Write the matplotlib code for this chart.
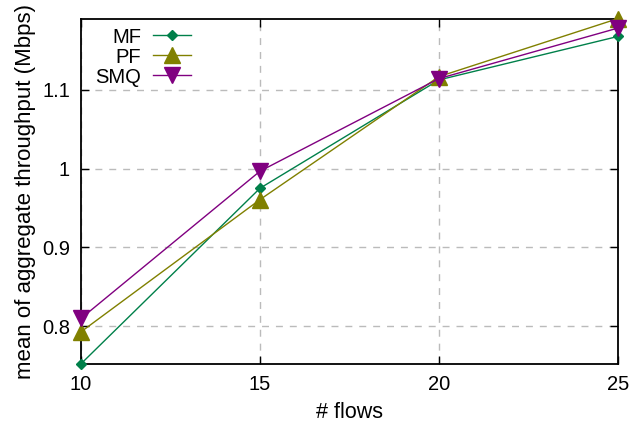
import matplotlib
matplotlib.use("Agg")
import matplotlib.pyplot as plt

plt.rcParams['font.family'] = ['Liberation Sans', 'DejaVu Sans']

# data
flows = [10, 15, 20, 25]
mf = [0.7525, 0.975, 1.1123, 1.1674]
pf = [0.793, 0.9606, 1.1165, 1.190]
smq = [0.810, 0.9966, 1.114, 1.178]

fig = plt.figure(figsize=(6.41, 4.23), dpi=100)
ax = fig.add_axes([0.1264, 0.140, 0.8376, 0.816])

ax.plot(flows, mf, color='#00804a', marker='D', markersize=5.5, lw=1, label='MF', clip_on=False, zorder=6)
ax.plot(flows, pf, color='#808000', marker='^', markersize=12, lw=1, label='PF', clip_on=False, zorder=6)
ax.plot(flows, smq, color='#800080', marker='v', markersize=12, lw=1, label='SMQ', clip_on=False, zorder=6)

ax.set_xlim(10, 25)
ax.set_ylim(0.7525, 1.190)
ax.set_xticks([10, 15, 20, 25])
ax.set_yticks([0.8, 0.9, 1.0, 1.1])
ax.set_yticklabels(['0.8', '0.9', '1', '1.1'])
ax.tick_params(direction='in', length=6, width=1, labelsize=14.5, top=True, right=True, pad=8)
ax.grid(True, color='#bbbbbb', linestyle=(0, (5, 5)), linewidth=1)
for s in ax.spines.values():
    s.set_linewidth(1.3)
    s.set_zorder(5)

ax.set_xlabel('# flows', fontsize=15.5, labelpad=6)
ax.set_ylabel('mean of aggregate throughput (Mbps)', fontsize=16, labelpad=4)

leg = ax.legend(loc='upper left', bbox_to_anchor=(0.0, 1.015), frameon=False, fontsize=14.5,
                markerfirst=False, handlelength=1.9, handletextpad=0.6, labelspacing=0.05,
                borderaxespad=0.3)
leg._legend_box.align = 'right'

fig.savefig('out.png', dpi=100)
